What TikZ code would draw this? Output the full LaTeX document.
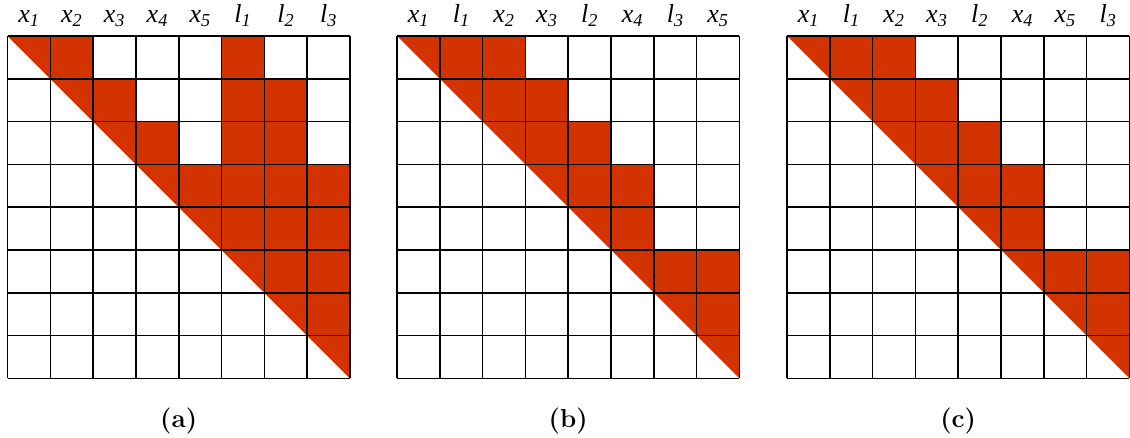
\documentclass[tikz,border=0pt]{standalone}
\usepackage{fontspec}
\newfontfamily\lblfont{Liberation Serif}
\definecolor{fillred}{RGB}{211,51,0}
\begin{document}
\begin{tikzpicture}[x=1pt,y=1pt,
  gridline/.style={black, line width=1.6pt},
  cellfill/.style={fill=fillred},
  collabel/.style={font=\lblfont\fontsize{26}{26}\selectfont\itshape, anchor=base, inner sep=0pt},
  captionlbl/.style={font=\fontsize{26}{26}\selectfont\bfseries, anchor=base, inner sep=0pt}]
\useasboundingbox (0,0) rectangle (1130,-437);
\def\cs{42.8}
% ---- generic macro for one matrix
\newcommand{\mymatrix}[4]{%
  \begin{scope}[shift={(#1,-36)}, x=\cs pt, y=-\cs pt]
    \foreach \i in {0,...,7} \fill[cellfill] (\i,\i) -- (\i+1,\i) -- (\i+1,\i+1) -- cycle;
    \foreach \r/\c in {#2} \fill[cellfill] (\c-1,\r-1) rectangle (\c,\r);
    \foreach \k in {0,...,8} {
      \draw[gridline] (\k,0) -- (\k,8);
      \draw[gridline] (0,\k) -- (8,\k);
    }
    \foreach \t [count=\n] in {#3}
      \node[collabel] (#4lab\n) at (\n-0.5,-0.31) {\t};
    \node[captionlbl] (#4cap) at (4,9.15) {(#4)};
  \end{scope}}
\mymatrix{7.5}{1/2,1/6,2/3,2/6,2/7,3/4,3/6,3/7,4/5,4/6,4/7,4/8,5/6,5/7,5/8,6/7,6/8,7/8}%
  {x\textsubscript{1},x\textsubscript{2},x\textsubscript{3},x\textsubscript{4},x\textsubscript{5},l\textsubscript{1},l\textsubscript{2},l\textsubscript{3}}{a}
\mymatrix{397}{1/2,1/3,2/3,2/4,3/4,3/5,4/5,4/6,5/6,6/7,6/8,7/8}%
  {x\textsubscript{1},l\textsubscript{1},x\textsubscript{2},x\textsubscript{3},l\textsubscript{2},x\textsubscript{4},l\textsubscript{3},x\textsubscript{5}}{b}
\mymatrix{787}{1/2,1/3,2/3,2/4,3/4,3/5,4/5,4/6,5/6,6/7,6/8,7/8}%
  {x\textsubscript{1},l\textsubscript{1},x\textsubscript{2},x\textsubscript{3},l\textsubscript{2},x\textsubscript{4},x\textsubscript{5},l\textsubscript{3}}{c}
\end{tikzpicture}
\end{document}
